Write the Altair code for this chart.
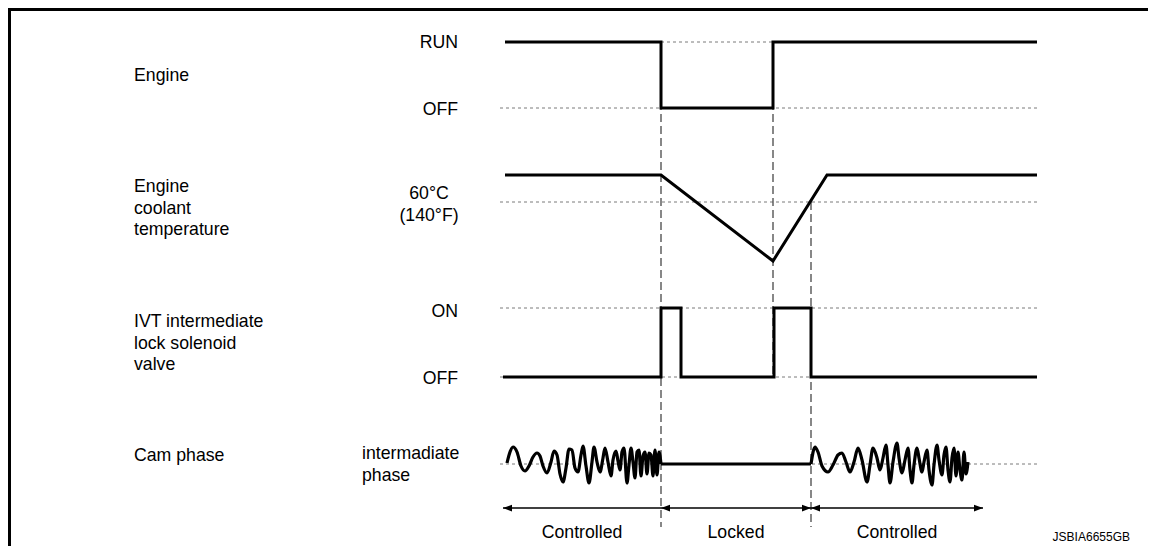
import altair as alt
import pandas as pd

W, H = 1140, 538
X0, Y0 = 8, 8
FONT = "Liberation Sans"
FS = 17.7

# ---------------- signal data (x = time position, y = level position) ----------------
engine_t = [505, 661, 661, 773, 773, 1037]
engine_y = [42, 42, 108, 108, 42, 42]

coolant_t = [505, 661, 773, 827, 1037]
coolant_y = [175, 175, 261, 175, 175]

ivt_t = [503, 661, 661, 681, 681, 774, 774, 811, 811, 1037]
ivt_y = [377, 377, 308, 308, 377, 377, 308, 308, 377, 377]

cam_locked_t = [661, 811]
cam_locked_y = [464, 464]

wave1_t = [507, 510, 513, 517, 521, 525, 529, 533, 537, 540, 543, 547, 551, 554, 557,
           560, 563, 566, 569, 572, 575, 578, 581, 583, 586, 589, 592, 594, 597, 600,
           603, 605, 608, 611, 613, 616, 618, 620, 622, 624, 627, 629, 631, 633, 635,
           637, 639, 641, 643, 645, 647, 649, 651, 653, 655, 657, 659, 661]
wave1_y = [463, 452, 447, 452, 466, 471, 466, 457, 453, 456, 466, 473, 462, 451, 455,
           474, 482, 468, 449, 450, 468, 472, 455, 446, 466, 483, 462, 447, 462, 472,
           458, 448, 462, 476, 460, 451, 461, 470, 452, 448, 483, 465, 448, 462, 478,
           452, 450, 476, 456, 452, 474, 453, 455, 476, 450, 475, 452, 464]

wave2_t = [811, 815, 818, 822, 828, 833, 838, 842, 846, 850, 854, 858, 862, 867, 870,
           873, 877, 880, 883, 886, 888, 890, 893, 897, 899, 902, 905, 908, 910, 912,
           914, 917, 919, 922, 924, 927, 929, 932, 934, 937, 939, 942, 944, 946, 948,
           950, 952, 954, 956, 958, 960, 962, 964, 966, 968]
wave2_y = [464, 447, 452, 466, 472, 465, 455, 453, 462, 472, 462, 448, 460, 482, 465,
           448, 458, 470, 458, 445, 465, 483, 462, 443, 458, 473, 460, 448, 470, 483,
           465, 448, 458, 472, 462, 450, 470, 485, 465, 445, 460, 475, 455, 447, 470,
           482, 458, 448, 476, 452, 470, 480, 452, 474, 462]

# reference (dotted) levels
ref_x1 = [661, 500, 500, 500, 500, 500]
ref_x2 = [773, 1037, 1037, 1037, 1037, 1037]
ref_y = [42, 108, 202, 308, 377, 464]

# event (dashed) verticals
event_t = [661, 773, 811]
event_y1 = [42, 42, 202]
event_y2 = [527, 377, 527]

# phase arrows
phase_x1 = [503, 661, 811]
phase_x2 = [661, 811, 983]
phase_names = ["Controlled", "Locked", "Controlled"]
phase_arrow_y = 508
phase_text_y = 538
head_t = [503, 661, 811, 811, 983]
head_dir = ["left", "left", "right", "left", "right"]

# text labels
track_labels = ["Engine", "Engine\ncoolant\ntemperature",
                "IVT intermediate\nlock solenoid\nvalve", "Cam phase"]
track_label_y = [81, 192, 327, 461]
level_labels = ["RUN", "OFF", "ON", "OFF"]
level_label_y = [48, 115, 317, 384]
temp_label = "60°C\n(140°F)"
cam_label = "intermadiate\nphase"
code_label = "JSBIA6655GB"

# ---------------- helpers ----------------
xs = alt.Scale(domain=[X0, X0 + W], nice=False, zero=False)
ys = alt.Scale(domain=[Y0, Y0 + H], nice=False, zero=False, reverse=True)


def X(f):
    return alt.X(f, type="quantitative", scale=xs, axis=None)


def Y(f):
    return alt.Y(f, type="quantitative", scale=ys, axis=None)


signals = pd.concat([
    pd.DataFrame({"t": engine_t, "y": engine_y, "s": "engine"}),
    pd.DataFrame({"t": coolant_t, "y": coolant_y, "s": "coolant"}),
    pd.DataFrame({"t": ivt_t, "y": ivt_y, "s": "ivt"}),
    pd.DataFrame({"t": cam_locked_t, "y": cam_locked_y, "s": "cam"}),
])
signals["i"] = range(len(signals))

waves = pd.concat([
    pd.DataFrame({"t": wave1_t, "y": wave1_y, "s": "w1"}),
    pd.DataFrame({"t": wave2_t, "y": wave2_y, "s": "w2"}),
])
waves["i"] = range(len(waves))

refs = pd.DataFrame({"x1": ref_x1, "x2": ref_x2, "y": ref_y})
events = pd.DataFrame({"t": event_t, "y1": event_y1, "y2": event_y2})
phases = pd.DataFrame({"x1": phase_x1, "x2": phase_x2, "name": phase_names})
heads = pd.DataFrame({"t": head_t, "dir": head_dir})

one = pd.DataFrame({"k": [0]})
frame_left = alt.Chart(one).mark_rule(color="black", strokeWidth=3, strokeCap="square").encode(
    x=alt.value(1.5), y=alt.value(1.5), y2=alt.value(H + 10))
frame_top = alt.Chart(one).mark_rule(color="black", strokeWidth=3, strokeCap="square").encode(
    x=alt.value(1.5), x2=alt.value(W + 10), y=alt.value(1.5))

ref_layer = alt.Chart(refs).mark_rule(color="#7a7a7a", strokeWidth=1, strokeDash=[3, 3]).encode(
    x=X("x1"), x2="x2", y=Y("y"))

event_layer = alt.Chart(events).mark_rule(color="#555555", strokeWidth=1.4, strokeDash=[8, 4]).encode(
    x=X("t"), y=Y("y1"), y2="y2")

signal_layer = alt.Chart(signals).mark_line(color="black", strokeWidth=3, strokeJoin="miter").encode(
    x=X("t"), y=Y("y"), detail="s:N", order="i:Q")

wave_layer = alt.Chart(waves).mark_line(color="black", strokeWidth=3.2, interpolate="monotone").encode(
    x=X("t"), y=Y("y"), detail="s:N", order="i:Q")

arrow_line = alt.Chart(phases).mark_rule(color="black", strokeWidth=1.5).encode(
    x=X("x1"), x2="x2", y=alt.Y("yy:Q", scale=ys, axis=None)
).transform_calculate(yy=str(phase_arrow_y))

head_layer = alt.Chart(heads).mark_point(filled=True, opacity=1, color="black", size=81).encode(
    x=X("t"), y=alt.Y("yy:Q", scale=ys, axis=None),
    shape=alt.Shape("dir:N", legend=None, scale=alt.Scale(
        domain=["left", "right"],
        range=["M0,0L2,-0.75L2,0.75Z", "M0,0L-2,-0.75L-2,0.75Z"]))
).transform_calculate(yy=str(phase_arrow_y))

phase_text = alt.Chart(phases).mark_text(font=FONT, fontSize=FS, color="black",
                                         align="center", baseline="alphabetic").encode(
    x=X("mid"), y=alt.Y("yy:Q", scale=ys, axis=None), text="name:N"
).transform_calculate(mid="(datum.x1 + datum.x2) / 2", yy=str(phase_text_y))

track_text = alt.Chart(pd.DataFrame({"label": track_labels, "y": track_label_y, "x": 134})).mark_text(
    font=FONT, fontSize=FS, color="black", align="left", baseline="alphabetic",
    lineBreak="\n", lineHeight=21.7).encode(x=X("x"), y=Y("y"), text="label:N")

level_text = alt.Chart(pd.DataFrame({"label": level_labels, "y": level_label_y, "x": 458})).mark_text(
    font=FONT, fontSize=FS, color="black", align="right", baseline="alphabetic").encode(
    x=X("x"), y=Y("y"), text="label:N")

temp_text = alt.Chart(pd.DataFrame({"label": [temp_label], "y": [199], "x": [429]})).mark_text(
    font=FONT, fontSize=FS, color="black", align="center", baseline="alphabetic",
    lineBreak="\n", lineHeight=21.7).encode(x=X("x"), y=Y("y"), text="label:N")

cam_text = alt.Chart(pd.DataFrame({"label": [cam_label], "y": [459], "x": [362]})).mark_text(
    font=FONT, fontSize=FS, color="black", align="left", baseline="alphabetic",
    lineBreak="\n", lineHeight=21.7).encode(x=X("x"), y=Y("y"), text="label:N")

code_text = alt.Chart(pd.DataFrame({"label": [code_label], "y": [541], "x": [1130]})).mark_text(
    font=FONT, fontSize=12, color="black", align="right", baseline="alphabetic").encode(
    x=X("x"), y=Y("y"), text="label:N")

chart = alt.layer(
    ref_layer, event_layer, signal_layer, wave_layer, arrow_line, head_layer,
    phase_text, track_text, level_text, temp_text, cam_text, code_text,
    frame_left, frame_top
).properties(
    width=W, height=H, padding=0, autosize=alt.AutoSizeParams(type="none")
).configure_view(stroke=None).configure(background="white")

chart.save("out.html", embed_options={"renderer": "svg", "actions": False})
